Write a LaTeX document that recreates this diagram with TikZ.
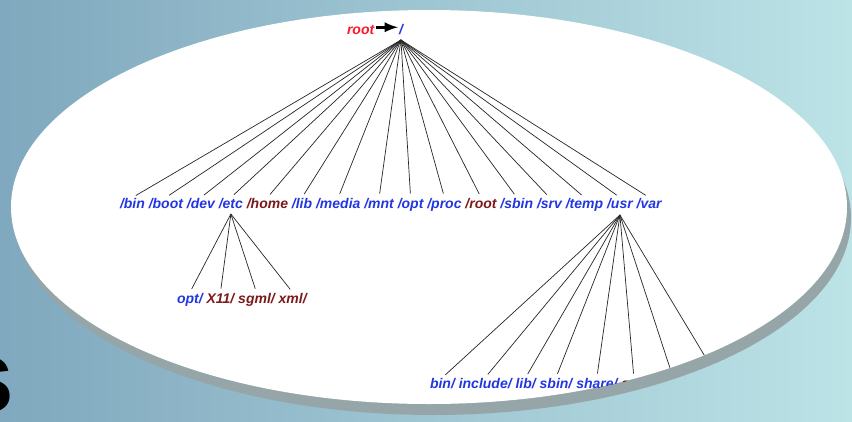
\documentclass[tikz,border=0pt]{standalone}
\usepackage{fontspec}
\setmainfont{Liberation Sans}
\usetikzlibrary{arrows,calc,positioning}
\definecolor{dirblue}{RGB}{35,55,225}
\definecolor{dirred}{RGB}{125,25,25}
\definecolor{rootred}{RGB}{250,25,45}
\definecolor{bgleft}{RGB}{128,168,190}
\definecolor{bgright}{RGB}{188,227,230}
\definecolor{rim}{RGB}{150,166,168}
\tikzset{
        dir/.style = {font=\bfseries\itshape\fontsize{14}{16}\selectfont,
            text=dirblue, inner sep=0pt, outer sep=0pt,
            text height=10.5pt, text depth=3pt},
        sysdir/.style = {dir, text=dirred},
        link/.style = {draw, black!85, line width=0.7pt, shorten >=4pt},
        oval/.style = {x radius=418, y radius=197},
    }

\begin{document}
\begin{tikzpicture}[x=1pt,y=-1pt,node distance=3.9pt]
    \shade[left color=bgleft,right color=bgright] (0,0) rectangle (852,421);
    \useasboundingbox (0,0) rectangle (852,421);
    \node[anchor=base east, inner sep=0pt, font=\bfseries\fontsize{104}{104}\selectfont] (title) at (15,412) {s};

    % frame
    \fill[rim] (433,218) ellipse [oval];
    \fill[white] (429,207) ellipse [oval];

    \begin{scope}
        \clip (429,207) ellipse [oval];

        % root
        \node[dir, text=rootred, anchor=base west] (rootname) at (347,34) {root};
        \node[dir, anchor=base west] (top) at (399,34) {/};
        \draw[-latex, line width=3.5pt] (rootname.east) ++(2,-3) -- ($(top.west)+(-1,-3)$);
        \coordinate[below=3pt of top.south] (hub);

        % first level
        \node[dir, anchor=base west] (bin) at (120,208) {/bin};
        \node[dir, right=of bin] (boot) {/boot};
        \node[dir, right=of boot] (dev) {/dev};
        \node[dir, right=of dev] (etc) {/etc};
        \node[sysdir, right=of etc] (home) {/home};
        \node[dir, right=of home] (lib) {/lib};
        \node[dir, right=of lib] (media) {/media};
        \node[dir, right=of media] (mnt) {/mnt};
        \node[dir, right=of mnt] (opt) {/opt};
        \node[dir, right=of opt] (proc) {/proc};
        \node[sysdir, right=of proc] (rootdir) {/root};
        \node[dir, right=of rootdir] (sbin) {/sbin};
        \node[dir, right=of sbin] (srv) {/srv};
        \node[dir, right=of srv] (temp) {/temp};
        \node[dir, right=of temp] (usr) {/usr};
        \node[dir, right=of usr] (var) {/var};

        \foreach \d in {bin,boot,dev,etc,home,lib,media,mnt,opt,proc,rootdir,sbin,srv,temp,usr,var}
            \draw[link] (hub) -- (\d.north);

        % under /etc
        \coordinate[below=3pt of etc.south] (etchub);
        \node[dir, anchor=base west] (etcopt) at (177,303) {opt/};
        \node[sysdir, right=of etcopt] (xeleven) {X11/};
        \node[sysdir, right=of xeleven] (sgml) {sgml/};
        \node[sysdir, right=of sgml] (xml) {xml/};

        \foreach \d in {etcopt,xeleven,sgml,xml}
            \draw[link] (etchub) -- (\d.north);

        % under /usr
        \coordinate[below=4pt of usr.south] (usrhub);
        \node[dir, anchor=base west] (ubin) at (430,388) {bin/};
        \node[dir, right=of ubin] (uinclude) {include/};
        \node[dir, right=of uinclude] (ulib) {lib/};
        \node[dir, right=of ulib] (usbin) {sbin/};
        \node[dir, right=of usbin] (ushare) {share/};
        \node[sysdir, right=of ushare] (usrc) {src/};
        \node[sysdir, right=of usrc] (ux) {X11R6/};
        \node[dir, right=of ux] (ulocal) {local/};

        \foreach \d in {ubin,uinclude,ulib,usbin,ushare,usrc,ux,ulocal}
            \draw[link] (usrhub) -- (\d.north);
    \end{scope}
\end{tikzpicture}
\end{document}
